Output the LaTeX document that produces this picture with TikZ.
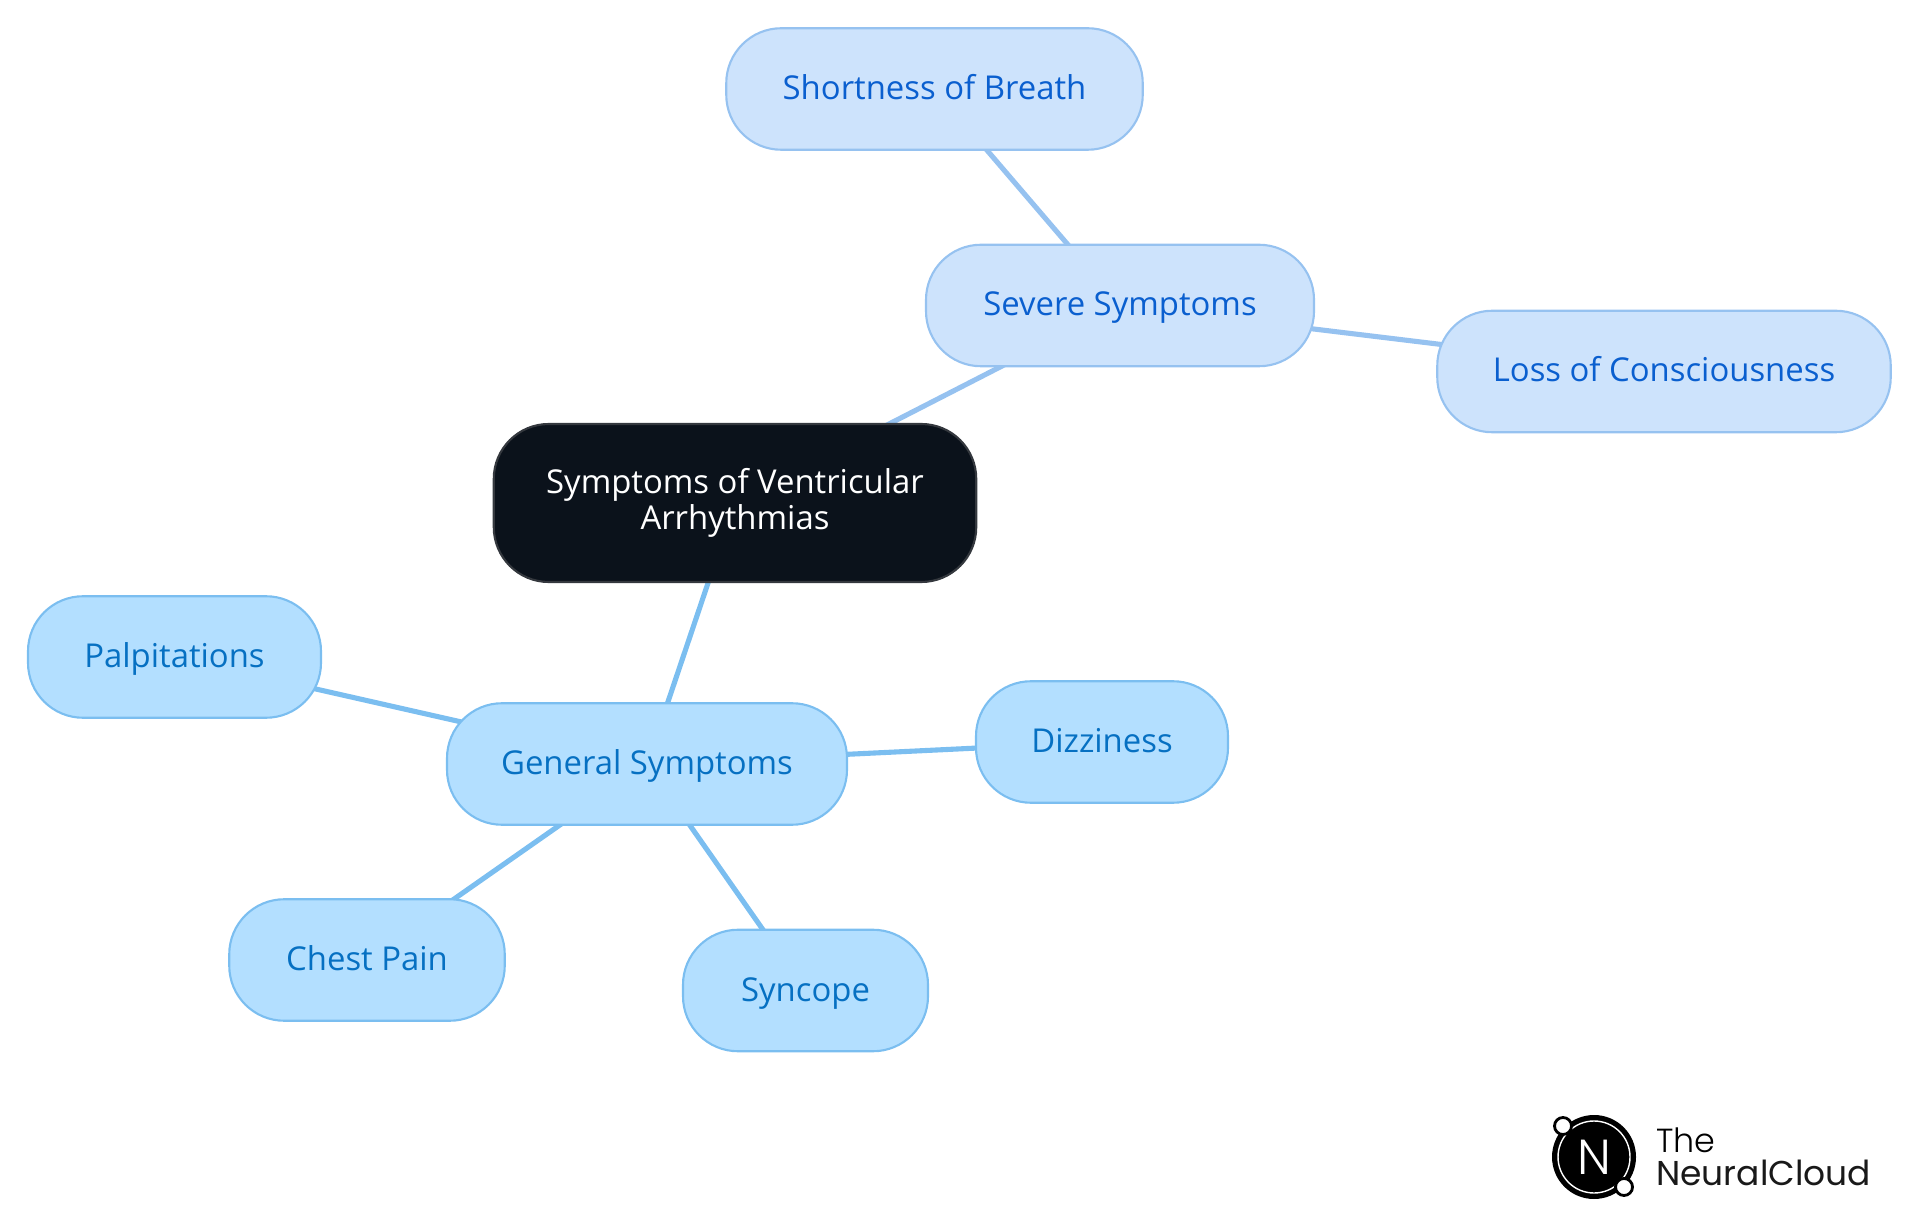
\documentclass[tikz,border=0pt]{standalone}
\usepackage{fontspec}
\setmainfont{Open Sans}
\newfontfamily\logofont{Poppins}
\newfontfamily\logolight{Poppins Light}
\usetikzlibrary{backgrounds}
\definecolor{rootfill}{HTML}{0B121B}
\definecolor{rootline}{HTML}{34383E}
\definecolor{genfill}{HTML}{B3DFFF}
\definecolor{genline}{HTML}{7BBEF0}
\definecolor{gentext}{HTML}{0670C2}
\definecolor{sevfill}{HTML}{CDE3FC}
\definecolor{sevline}{HTML}{96C2F0}
\definecolor{sevtext}{HTML}{0A5FCF}

\begin{document}
\begin{tikzpicture}[
  box/.style={draw,line width=1.2pt,rounded corners=1.1cm,minimum height=2.43cm,inner sep=0pt,align=center,font=\fontsize{18.7}{20.2}\selectfont},
  root/.style={box,fill=rootfill,draw=rootline,text=white,minimum height=3.16cm},
  general/.style={box,fill=genfill,draw=genline,text=gentext,text height=0.52cm,text depth=0.10cm},
  severe/.style={box,fill=sevfill,draw=sevline,text=sevtext,text height=0.52cm,text depth=0.10cm},
  genlink/.style={genline,line width=2.9pt},
  sevlink/.style={sevline,line width=2.9pt}]
\useasboundingbox (0,0) rectangle (38.4,24.3);
\node[root,minimum width=9.65cm] (Root) at (14.70,14.24) {Symptoms of Ventricular\\Arrhythmias};
\node[severe,minimum width=7.76cm] (Severe) at (22.40,18.19) {Severe Symptoms};
\node[severe,minimum width=8.33cm] (Breath) at (18.69,22.52) {Shortness of Breath};
\node[severe,minimum width=9.07cm] (Loss) at (33.28,16.87) {Loss of Consciousness};
\node[general,minimum width=8.00cm] (General) at (12.94,9.02) {General Symptoms};
\node[general,minimum width=5.86cm] (Palp) at (3.49,11.16) {Palpitations};
\node[general,minimum width=5.04cm] (Dizzy) at (22.04,9.46) {Dizziness};
\node[general,minimum width=5.51cm] (Chest) at (7.34,5.10) {Chest Pain};
\node[general,minimum width=4.90cm] (Syncope) at (16.11,4.49) {Syncope};
\begin{pgfonlayer}{background}
\draw[sevlink] (Root.center) -- (Severe.center);
\draw[sevlink] (Severe.center) -- (Breath.center);
\draw[sevlink] (Severe.center) -- (Loss.center);
\draw[genlink] (Root.center) -- (General.center);
\draw[genlink] (General.center) -- (Palp.center);
\draw[genlink] (General.center) -- (Dizzy.center);
\draw[genlink] (General.center) -- (Chest.center);
\draw[genlink] (General.center) -- (Syncope.center);
\end{pgfonlayer}
% logo
\fill[black] (31.88,1.16) circle (0.84);
\draw[white,line width=0.8pt] (31.88,1.16) circle (0.72);
\node[white,font=\logolight\fontsize{28}{28}\selectfont] (LogoN) at (31.88,1.16) {N};
\draw[black,fill=white,line width=1.6pt] (31.26,1.78) circle (0.17);
\draw[black,fill=white,line width=1.6pt] (32.48,0.56) circle (0.17);
\node[anchor=base west,inner sep=0pt,font=\logolight\fontsize{19}{20}\selectfont,text=black] (LogoThe) at (33.12,1.26) {The};
\node[anchor=base west,inner sep=0pt,font=\logofont\fontsize{19.6}{20}\selectfont,text=black!90] (LogoName) at (33.12,0.60) {NeuralCloud};
\end{tikzpicture}
\end{document}
